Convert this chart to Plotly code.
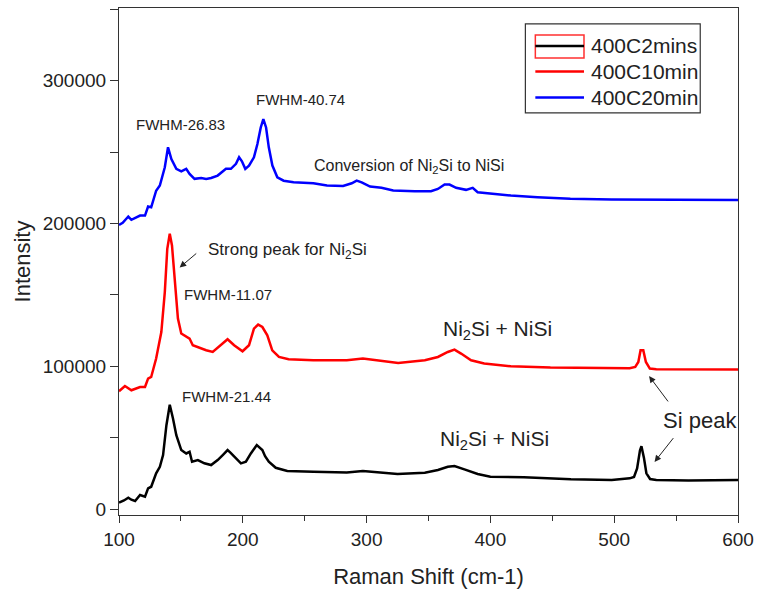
import plotly.graph_objects as go

# Raman spectra of Ni silicide films annealed at 400 C (offset stacked)
shift_2min = [100, 104, 107.5, 110, 113, 117, 121, 123.5, 126, 130, 133, 135.6, 138.3, 141, 143.6,
              146.3, 150.3, 154.3, 157, 159, 163.7, 169, 174.4, 179.7, 184, 187.7, 190, 193, 198.5,
              202.5, 206.5, 211.3, 215.8, 218, 221, 226.6, 235.9, 257, 284, 297, 310, 325, 347,
              357.6, 365.6, 371, 379, 389.7, 400, 427, 465, 498, 512.5, 516, 518.5, 520.8, 522,
              524, 526, 529, 534, 560, 600]
int_2min = [4500, 6000, 7900, 6500, 5600, 9800, 8600, 14500, 15600, 25000, 29600, 37800, 58700, 73000,
            63400, 51700, 41300, 38900, 40100, 33100, 34300, 32000, 30800, 34300, 38000, 41300, 39500,
            36600, 32000, 33100, 38900, 44800, 41300, 37000, 33100, 28900, 26600, 26100, 25600, 26600,
            25800, 24500, 25400, 27300, 29600, 30100, 27800, 24500, 22600, 22200, 20800, 20300, 21500,
            22500, 28500, 41000, 44000, 36000, 25000, 21000, 20300, 20000, 20300]

shift_10min = [100, 104.8, 110, 117, 121, 123.5, 126, 130, 134.2, 137, 139, 141, 142.8, 145, 147.6,
               150.3, 154.3, 157, 159.6, 165, 170.4, 175.7, 182.4, 187.7, 193, 199.8, 205, 209, 212.4,
               215.8, 219.8, 223.8, 229.2, 237, 257, 284, 297, 312, 325.5, 347, 357.6, 365.6, 371,
               376.3, 384.4, 395, 416.5, 448.5, 498, 512.5, 517, 519.5, 521.3, 523.5, 525.6, 528.8,
               534, 570, 600]
int_10min = [82500, 86200, 83200, 85500, 85500, 91400, 92500, 105400, 124000, 152000, 182300, 192800,
             184600, 161300, 133400, 122900, 120500, 119400, 114700, 112800, 111200, 110000, 114700,
             118900, 114700, 110500, 114700, 126400, 129200, 127500, 121700, 111200, 106500, 104900,
             104200, 104200, 105400, 103700, 102300, 104200, 106500, 110000, 111700, 108900, 104200,
             101900, 100000, 99100, 98400, 98600, 99500, 103000, 111200, 111200, 103000, 98400, 97900,
             97700, 97800]

shift_20min = [100, 103, 107.5, 110, 117, 121, 123.5, 126, 130, 133, 137, 139.6, 142.3, 146.3, 150.3,
               154.3, 157, 161, 166.4, 170.4, 174.4, 179.7, 186.4, 190.4, 194.5, 197, 199.3, 202, 205,
               209, 211.8, 214.5, 216.6, 218.8, 221, 223.9, 227.9, 233, 241, 257, 268, 281, 288, 292,
               296, 302.8, 312, 321.5, 338.9, 352, 357.6, 363, 367, 372.3, 380.3, 385.7, 389.7, 400.4,
               416.5, 438, 464.6, 498, 550, 600]
int_20min = [199000, 200500, 204900, 202600, 205600, 205600, 211900, 211400, 223000, 226600, 239400,
             253400, 245200, 238300, 236600, 238300, 234800, 231300, 231900, 231300, 231900, 233600,
             238300, 238300, 241800, 246400, 243600, 238300, 240600, 246400, 255700, 267300, 273200,
             267300, 253400, 240600, 232400, 230000, 228900, 228200, 226600, 226300, 228200, 230100,
             228900, 225900, 225000, 223100, 222600, 222600, 224200, 227300, 227300, 225000, 223600,
             225000, 221900, 220800, 219600, 218400, 217300, 216800, 216500, 216400]

series_names = ["400C2mins", "400C10min", "400C20min"]
series_colors = ["#000000", "#ff0000", "#0000ff"]

x_ticks = [100, 200, 300, 400, 500, 600]
y_ticks = [0, 100000, 200000, 300000]
y_ticklabels = ["0", "100000", "200000", "300000"]

X_RANGE = [100, 600]
Y_RANGE = [-4200, 351000]
FONT = "Liberation Sans, Arial, sans-serif"
TXT = "#222222"

fig = go.Figure()
for xs, ys, name, col in zip([shift_2min, shift_10min, shift_20min],
                             [int_2min, int_10min, int_20min],
                             series_names, series_colors):
    fig.add_trace(go.Scatter(x=xs, y=ys, mode="lines", name=name, showlegend=False,
                             line=dict(color=col, width=2.5)))

fig.update_layout(
    width=761, height=594,
    margin=dict(l=119, r=19, t=7, b=79),
    paper_bgcolor="white", plot_bgcolor="white",
    font=dict(family=FONT, color=TXT),
    xaxis=dict(range=X_RANGE, tickvals=x_ticks, ticks="outside", ticklen=7, tickwidth=1,
               showline=True, linecolor="#333", linewidth=1.2, mirror=True,
               showgrid=False, zeroline=False, tickfont=dict(size=19, color=TXT),
               minor=dict(dtick=50, tick0=100, ticks="outside", ticklen=5, tickcolor="#333"),
               tickcolor="#333",
               title=dict(text="Raman Shift (cm-1)", font=dict(size=22, color=TXT), standoff=19)),
    yaxis=dict(range=Y_RANGE, tickvals=y_ticks, ticktext=y_ticklabels, ticks="outside",
               ticklen=8, tickwidth=1, tickcolor="#333",
               showline=True, linecolor="#333", linewidth=1.2, mirror=True,
               showgrid=False, zeroline=False, tickfont=dict(size=19, color=TXT),
               minor=dict(dtick=50000, tick0=0, ticks="outside", ticklen=8, tickcolor="#333"),
               title=dict(text="Intensity", font=dict(size=22, color=TXT), standoff=5)),
    yaxis2=dict(range=Y_RANGE, overlaying="y", side="right", showticklabels=False,
                tickvals=[0, 50000, 100000, 150000, 200000, 250000, 300000], ticks="inside",
                ticklen=6, tickcolor="#333", showgrid=False, zeroline=False, showline=False),
)

# peak labels
def note(x, y, text, size, **kw):
    fig.add_annotation(x=x, y=y, xref="x", yref="y", text=text, showarrow=False,
                       font=dict(size=size, color=TXT, family=FONT), **kw)

note(149.8, 269200, "FWHM-26.83", 15)
note(246.9, 286700, "FWHM-40.74", 15)
note(334.3, 239900, "Conversion of Ni<sub>2</sub>Si to NiSi", 16)
note(236.4, 181100, "Strong peak for Ni<sub>2</sub>Si", 17)
note(188.3, 150300, "FWHM-11.07", 15)
note(186.7, 79000, "FWHM-21.44", 15)
note(405.4, 125200, "Ni<sub>2</sub>Si + NiSi", 21)
note(403.4, 48300, "Ni<sub>2</sub>Si + NiSi", 21)
note(569.1, 61900, "Si peak", 22)

# arrows pointing to peaks
def arrow(x_tail, y_tail, x_head, y_head):
    fig.add_annotation(x=x_head, y=y_head, ax=x_tail, ay=y_tail, xref="x", yref="y",
                       axref="x", ayref="y", text="", showarrow=True, arrowhead=2,
                       arrowsize=1.3, arrowwidth=1, arrowcolor="#222")

arrow(163.6, 179900, 149.0, 169200)
arrow(544.4, 74300, 528.2, 93100)
arrow(548.7, 50700, 532.6, 33000)

# legend box drawn in paper coordinates
fig.add_shape(type="rect", xref="paper", yref="paper", x0=0.6565, x1=0.939, y0=0.7933, y1=0.9685,
              line=dict(color="#333", width=1.2), fillcolor="white", layer="above")
leg_y = [0.9252, 0.8746, 0.8234]
fig.add_shape(type="rect", xref="paper", yref="paper", x0=0.6726, x1=0.7512, y0=0.9016, y1=0.9469,
              line=dict(color="#ff3030", width=1.5), layer="above")
for yy, name, col in zip(leg_y, series_names, series_colors):
    fig.add_shape(type="line", xref="paper", yref="paper", x0=0.6726, x1=0.7512, y0=yy, y1=yy,
                  line=dict(color=col, width=2.5), layer="above")
    fig.add_annotation(x=0.7592, y=yy, xref="paper", yref="paper", text=name, showarrow=False,
                       xanchor="left", yanchor="middle", font=dict(size=21, color=TXT, family=FONT))

fig.write_html("out.html")
